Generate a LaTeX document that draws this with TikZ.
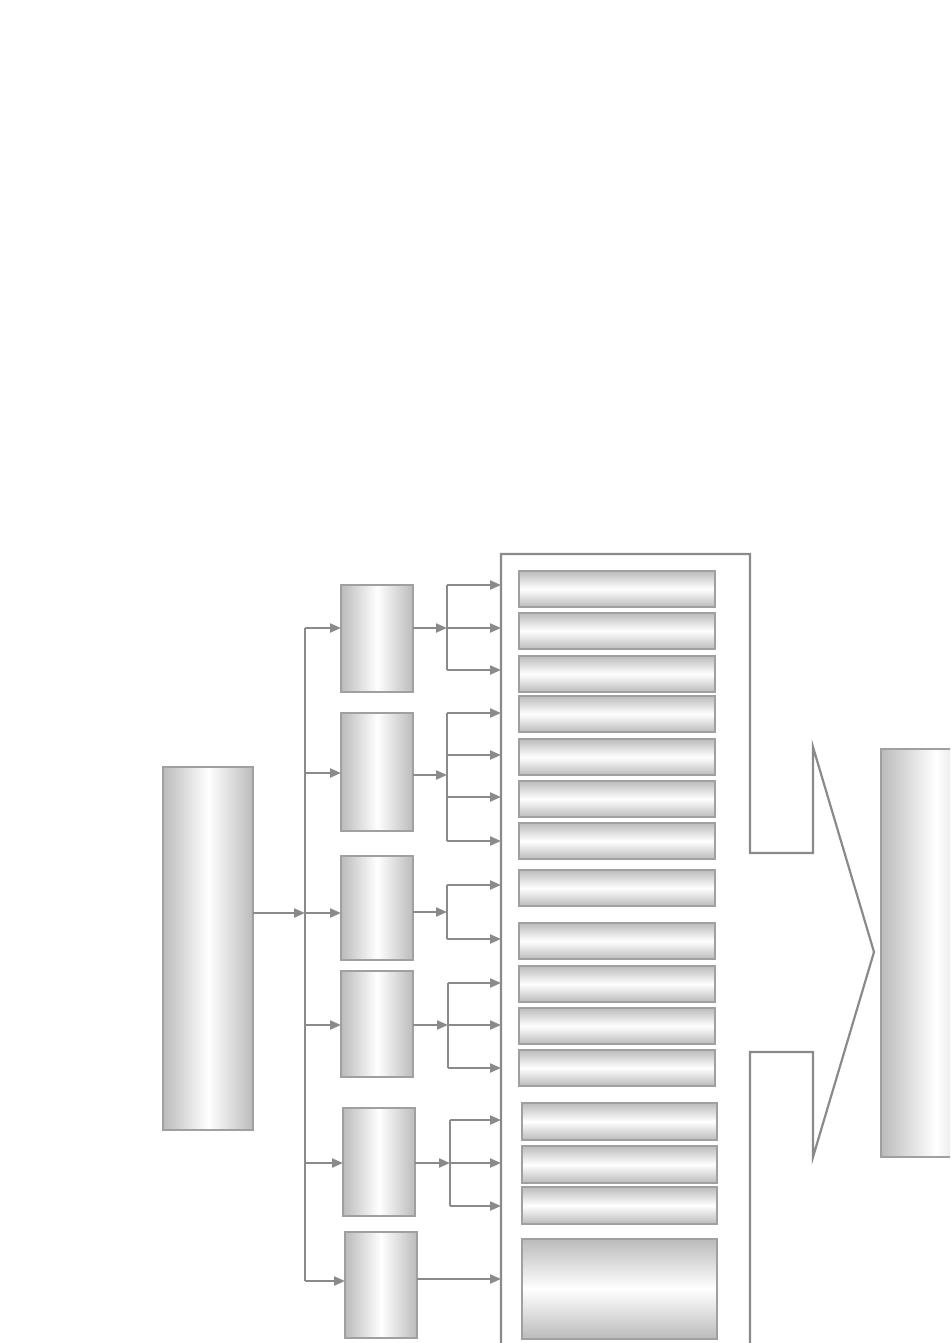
\documentclass[tikz,border=0pt]{standalone}
\usetikzlibrary{arrows.meta}
\definecolor{shd}{HTML}{BBBBBB}
\definecolor{bordc}{HTML}{A0A0A0}
\definecolor{linec}{HTML}{8A8A8A}
\tikzset{
  vbox/.style={draw=bordc, line width=1.5pt, left color=shd, right color=shd, middle color=white, anchor=north west, inner sep=0pt, outer sep=0pt},
  hbar/.style={draw=bordc, line width=1.5pt, top color=shd, bottom color=shd, middle color=white, anchor=north west, inner sep=0pt, outer sep=0pt},
  conn/.style={draw=linec, line width=2.2pt},
  arr/.style={conn, -{Triangle[length=11pt,width=9pt]}},
  outline/.style={draw=linec, line width=2.2pt, line join=miter}
}
\begin{document}
\begin{tikzpicture}[x=1pt,y=-1pt]
\useasboundingbox (0,0) rectangle (950,1343);
\clip (0,0) rectangle (950,1343);
% big arrow outline
\draw[outline] (501,1345) -- (501,554) -- (750,554) -- (750,853) -- (813,853) -- (813,747)
  -- (874,952) -- (813,1157) -- (813,1052) -- (750,1052) -- (750,1345);
% left and right boxes
\node[vbox, minimum width=90pt, minimum height=363pt] (L) at (163,767) {};
\node[vbox, minimum width=110pt, minimum height=408pt] (R) at (881,749) {};
% middle column boxes
\node[vbox, minimum width=72pt, minimum height=107pt] (B1) at (341,585) {};
\node[vbox, minimum width=72pt, minimum height=118pt] (B2) at (341,713) {};
\node[vbox, minimum width=72pt, minimum height=104pt] (B3) at (341,856) {};
\node[vbox, minimum width=72pt, minimum height=106pt] (B4) at (341,971) {};
\node[vbox, minimum width=72pt, minimum height=108pt] (B5) at (343,1108) {};
\node[vbox, minimum width=72pt, minimum height=106pt] (B6) at (345,1232) {};
% bars
\foreach \y [count=\i] in {571,613,656,696,739,781,823,870,923,966,1008,1050}{
  \node[hbar, minimum width=196pt, minimum height=36pt] (H\i) at (519,\y) {};
}
\foreach \y [count=\i from 13] in {1103,1146,1187}{
  \node[hbar, minimum width=195pt, minimum height=37pt] (H\i) at (522,\y) {};
}
\node[hbar, minimum width=195pt, minimum height=100pt] (H16) at (522,1239) {};
% bus
\coordinate (busT) at (305,628);
\coordinate (busB) at (305,1281);
\coordinate (busL) at (305,913);
\draw[conn] (busT) -- (busB);
\draw[arr] (L.east |- busL) -- (busL);
\foreach \b/\y in {B1/628,B2/773,B3/913,B4/1025,B5/1163,B6/1281}{
  \coordinate (s\b) at (305,\y);
  \draw[arr] (s\b) -- (s\b -| \b.west);
}
% outputs of boxes to junctions and branches
% B1
\coordinate (j1) at (447,628);
\draw[arr] (j1 -| B1.east) -- (j1);
\draw[conn] (447,585) -- (447,670);
\foreach \y in {585,628,670}{\coordinate (t) at (501,\y); \draw[arr] (447,\y) -- (t);}
% B2
\coordinate (j2) at (447,775);
\draw[arr] (j2 -| B2.east) -- (j2);
\draw[conn] (447,713) -- (447,841);
\foreach \y in {713,755,797,841}{\coordinate (t) at (501,\y); \draw[arr] (447,\y) -- (t);}
% B3
\coordinate (j3) at (447,912);
\draw[arr] (j3 -| B3.east) -- (j3);
\draw[conn] (447,885) -- (447,939);
\foreach \y in {885,939}{\coordinate (t) at (501,\y); \draw[arr] (447,\y) -- (t);}
% B4
\coordinate (j4) at (448,1025);
\draw[arr] (j4 -| B4.east) -- (j4);
\draw[conn] (448,983) -- (448,1068);
\foreach \y in {983,1025,1068}{\coordinate (t) at (501,\y); \draw[arr] (448,\y) -- (t);}
% B5
\coordinate (j5) at (450,1163);
\draw[arr] (j5 -| B5.east) -- (j5);
\draw[conn] (450,1120) -- (450,1206);
\foreach \y in {1120,1163,1206}{\coordinate (t) at (501,\y); \draw[arr] (450,\y) -- (t);}
% B6
\coordinate (t6) at (501,1279);
\draw[arr] (t6 -| B6.east) -- (t6);
\end{tikzpicture}
\end{document}
